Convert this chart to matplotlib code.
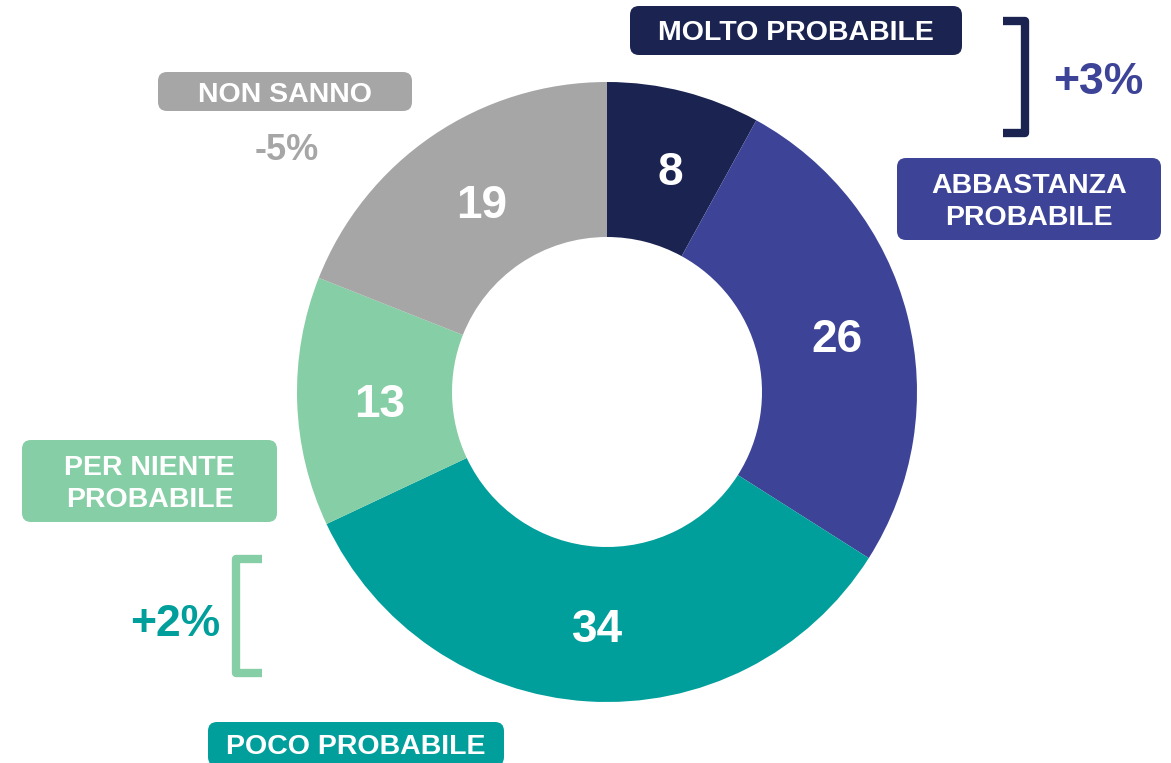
import matplotlib
matplotlib.use("Agg")

import numpy as np
import matplotlib.pyplot as plt
from matplotlib.patches import FancyBboxPatch

# =========================
# Data
# =========================
CATEGORIES = ["MOLTO PROBABILE", "ABBASTANZA\nPROBABILE", "POCO PROBABILE",
              "PER NIENTE\nPROBABILE", "NON SANNO"]
VALUES = [8, 26, 34, 13, 19]
COLORS = ["#1b2451", "#3d4497", "#009f9b", "#86cea5", "#a6a6a6"]

DELTA_TOP = "+3%"      # molto + abbastanza
DELTA_BOTTOM = "+2%"   # poco + per niente
DELTA_NS = "-5%"

# =========================
# Style / layout (pixel space)
# =========================
W, H = 1171, 763
CX, CY = 607, 392
R_OUT, R_IN = 310, 155
FONT = "Liberation Sans"

plt.rcParams["font.family"] = [FONT, "DejaVu Sans"]
plt.rcParams["font.weight"] = "bold"

fig = plt.figure(figsize=(W / 100, H / 100), dpi=100)
ax = fig.add_axes([0, 0, 1, 1])
ax.set_xlim(0, W)
ax.set_ylim(0, H)
ax.set_aspect("equal")
ax.axis("off")


def py(y):
    # convert top-down pixel y to data y
    return H - y


wedges, _ = ax.pie(
    VALUES,
    colors=COLORS,
    startangle=90,
    counterclock=False,
    center=(CX, py(CY)),
    radius=R_OUT,
    wedgeprops=dict(width=R_OUT - R_IN, linewidth=0),
    frame=True,
)
ax.set_xlim(0, W)
ax.set_ylim(0, H)
ax.axis("off")

# value labels in the ring
r_mid = (R_OUT + R_IN) / 2
for w, v in zip(wedges, VALUES):
    ang = np.deg2rad((w.theta1 + w.theta2) / 2)
    x = CX + r_mid * np.cos(ang) + 5
    y = py(CY) + r_mid * np.sin(ang) - 6
    ax.text(x, y, str(v), ha="center", va="center", color="white",
            fontsize=33, fontweight="bold")


def label_box(x0, y0, x1, y1, text, color, fs=20.5):
    box = FancyBboxPatch(
        (x0, py(y1)), x1 - x0, y1 - y0,
        boxstyle="round,pad=0,rounding_size=9",
        facecolor=color, edgecolor="none",
    )
    ax.add_patch(box)
    ax.text((x0 + x1) / 2, py((y0 + y1) / 2) - 3, text, ha="center", va="center",
            color="white", fontsize=fs, fontweight="bold", linespacing=1.3)


label_box(630, 6, 962, 55, CATEGORIES[0], COLORS[0])
label_box(897, 158, 1161, 240, CATEGORIES[1], COLORS[1])
label_box(208, 722, 504, 766, CATEGORIES[2], COLORS[2])
label_box(22, 440, 277, 522, CATEGORIES[3], COLORS[3])
label_box(158, 72, 412, 111, CATEGORIES[4], COLORS[4])

# brackets
def bracket(xs, ys, color):
    ax.plot(xs, [py(y) for y in ys], color=color, lw=6,
            solid_capstyle="butt", solid_joinstyle="round")


bracket([1003, 1025, 1025, 1003], [21, 21, 133, 133], COLORS[0])
bracket([262, 236, 236, 262], [559, 559, 673, 673], COLORS[3])

# deltas
ax.text(1098, py(83), DELTA_TOP, ha="center", va="center",
        color=COLORS[1], fontsize=32, fontweight="bold")
ax.text(175, py(625), DELTA_BOTTOM, ha="center", va="center",
        color=COLORS[2], fontsize=32, fontweight="bold")
ax.text(287, py(151), DELTA_NS, ha="center", va="center",
        color=COLORS[4], fontsize=26, fontweight="bold")

fig.savefig("out.png", dpi=100)
plt.close(fig)
